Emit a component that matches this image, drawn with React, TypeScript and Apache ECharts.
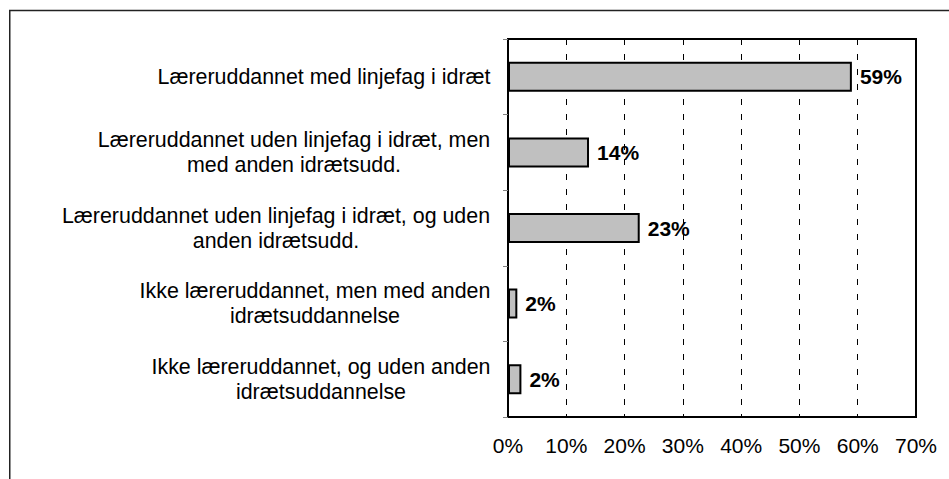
import React, { useEffect, useRef } from "react";
import * as echarts from "echarts";

const categories: string[] = [
  "Læreruddannet med linjefag i idræt",
  "Læreruddannet uden linjefag i idræt, men\nmed anden idrætsudd.",
  "Læreruddannet uden linjefag i idræt, og uden\nanden idrætsudd.",
  "Ikke læreruddannet, men med anden\nidrætsuddannelse",
  "Ikke læreruddannet, og uden anden\nidrætsuddannelse",
];
const values: number[] = [59.0, 13.9, 22.6, 1.6, 2.3];
const xMin = 0;
const xMax = 70;
const xInterval = 10;

const FONT_FAMILY = '"Liberation Sans", Arial, sans-serif';
const FONT_SIZE = 21;
const CAT_FONT_SIZE = 21.4;

function measure(text: string): number {
  const ctx = document.createElement("canvas").getContext("2d");
  if (!ctx) return text.length * 10;
  ctx.font = `${CAT_FONT_SIZE}px ${FONT_FAMILY}`;
  return ctx.measureText(text).width;
}

export default function App() {
  const ref = useRef<HTMLDivElement>(null);

  useEffect(() => {
    if (!ref.current) return;
    const chart = echarts.init(ref.current, undefined, { renderer: "svg" });

    const rich: Record<string, any> = {};
    categories.forEach((c, i) => {
      const w = Math.max(...c.split("\n").map(measure));
      rich["l" + i] = {
        width: Math.ceil(w) + 1,
        align: "center",
        fontSize: CAT_FONT_SIZE,
        lineHeight: 25,
        fontFamily: FONT_FAMILY,
        color: "#000",
      };
    });

    chart.setOption({
      animation: false,
      backgroundColor: "#fff",
      graphic: [
        {
          type: "rect",
          silent: true,
          z: -1,
          shape: { x: 9.75, y: 10.5, width: 2000, height: 2000 },
          style: { fill: "none", stroke: "#222", lineWidth: 1.5 },
        },
      ],
      grid: {
        left: 508,
        top: 39,
        width: 408,
        height: 378,
        show: true,
        borderColor: "#000",
        borderWidth: 2,
        backgroundColor: "transparent",
      },
      xAxis: {
        type: "value",
        min: xMin,
        max: xMax,
        interval: xInterval,
        axisLine: { show: true, lineStyle: { color: "#000", width: 2 } },
        axisTick: { show: false },
        axisLabel: {
          formatter: "{value}%",
          fontSize: FONT_SIZE,
          fontFamily: FONT_FAMILY,
          color: "#000",
          margin: 18,
        },
        splitLine: {
          show: true,
          lineStyle: { color: "#000", width: 1, type: [6, 9] },
        },
      },
      yAxis: {
        type: "category",
        inverse: true,
        data: categories,
        axisLine: { show: true, lineStyle: { color: "#000", width: 2 } },
        axisTick: {
          show: true,
          length: 5,
          lineStyle: { color: "#808080", width: 1 },
        },
        axisLabel: {
          margin: 17,
          formatter: (value: string, index: number) =>
            value
              .split("\n")
              .map((l) => `{l${index}|${l}}`)
              .join("\n"),
          rich,
        },
      },
      series: [
        {
          type: "bar",
          data: values,
          barWidth: 30,
          itemStyle: { color: "#c0c0c0", borderColor: "#000", borderWidth: 2 },
          label: {
            show: true,
            position: "right",
            distance: 8,
            fontSize: FONT_SIZE,
            fontWeight: "bold",
            fontFamily: FONT_FAMILY,
            color: "#000",
            formatter: (p: any) => `${Math.round(p.value)}%`,
          },
        },
      ],
    });

    return () => chart.dispose();
  }, []);

  return (
    <div
      ref={ref}
      style={{ position: "absolute", left: 0, top: 0, width: 949, height: 479 }}
    />
  );
}
